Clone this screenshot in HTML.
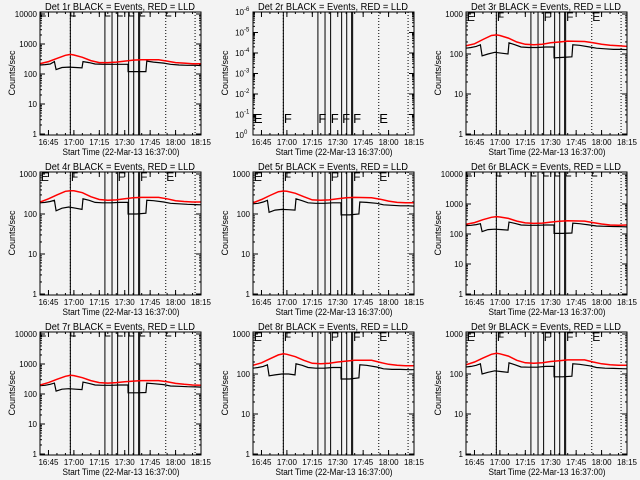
<!DOCTYPE html>
<html><head><meta charset="utf-8"><style>
html,body{margin:0;padding:0;background:#f3f3f3;}
svg{display:block;}
text{font-family:"Liberation Sans",sans-serif;fill:#000;}
</style></head><body>
<svg id="chart" width="640" height="480" viewBox="0 0 640 480" xmlns="http://www.w3.org/2000/svg">
<rect width="640" height="480" fill="#f3f3f3"/>
</svg>
<script>
// ---- data ----
const panelTitles = ["Det 1r BLACK = Events, RED = LLD","Det 2r BLACK = Events, RED = LLD","Det 3r BLACK = Events, RED = LLD","Det 4r BLACK = Events, RED = LLD","Det 5r BLACK = Events, RED = LLD","Det 6r BLACK = Events, RED = LLD","Det 7r BLACK = Events, RED = LLD","Det 8r BLACK = Events, RED = LLD","Det 9r BLACK = Events, RED = LLD"];
const panelDecades = [4,0,3,3,3,4,4,3,3];
const xTickLabels = ["16:45","17:00","17:15","17:30","17:45","18:00","18:15"];
const xTickMinutes = [8,23,38,53,68,83,98];
const blackTimes = [3,6,9,11.5,12.5,16,20,24,27.8,28.4,32,35.5,40,45,50,54.9,55,60,65.5,66,70,76,80,85,90,95,98];
const black1 = [200,205,215,260,140,165,170,165,160,260,240,215,210,210,210,210,120,120,120,270,250,230,210,200,195,195,190];
const black3 = [140,145,155,170,90,100,110,105,100,190,170,150,145,145,150,150,80,82,85,170,165,150,140,135,130,130,128];
const black4 = [190,195,205,220,120,140,150,140,130,240,220,195,190,190,195,195,100,100,105,220,215,200,185,180,175,172,170];
const black5 = [180,185,200,220,110,125,130,128,125,240,215,190,185,185,190,190,95,95,100,200,195,185,170,165,160,160,158];
const black6 = [190,195,205,220,120,140,145,140,135,250,225,200,195,195,200,200,105,105,108,230,220,200,185,180,178,175,172];
const black7 = [190,195,210,230,125,145,150,145,140,250,225,200,195,195,200,200,110,110,112,230,220,205,185,180,175,172,170];
const black8 = [140,145,155,170,90,95,100,100,95,180,165,145,140,140,145,145,75,75,80,170,165,150,135,130,130,128,128];
const black9 = [150,155,165,180,100,110,120,115,110,190,170,150,148,148,155,155,85,85,88,180,175,160,145,140,138,136,135];
const redTimes = [3,8,13,18,21,23,28,33,38,43,48,53,58,63,73,78,83,88,93,98];
const red1 = [220,260,330,420,450,430,360,280,240,240,250,270,290,300,300,270,240,230,220,220];
const red3 = [160,180,230,290,300,290,250,200,175,170,175,190,200,210,205,190,175,165,160,155];
const red4 = [200,240,300,370,380,380,340,270,230,220,225,240,255,260,260,240,215,205,200,200];
const red5 = [190,230,290,360,375,370,330,270,225,220,225,240,255,260,255,235,210,195,190,190];
const red6 = [210,240,300,360,380,370,330,270,235,225,230,250,265,275,270,240,215,200,195,200];
const red7 = [200,240,310,390,420,410,350,280,240,230,240,255,270,280,280,255,225,210,200,195];
const red8 = [165,190,240,300,320,310,270,220,185,180,185,200,210,220,220,195,175,165,160,160];
const red9 = [170,200,250,310,330,320,280,220,190,185,190,205,215,225,225,200,180,170,165,165];
const blackSeries = [black1,null,black3,black4,black5,black6,black7,black8,black9];
const redSeries = [red1,null,red3,red4,red5,red6,red7,red8,red9];
const solidLineTimes = [20.9,41.3,45.5,48.8,55.3,58.3,61.2,61.8];
const dottedLineTimes = [20.9,77.2,94.5];
const markerTimes = [3.5,21.2,41.6,48.9,55.6,62.1,77.5];
const markerLetters = ["E","F","F","F","F","F","E"];
const markerLettersTop = ["E","F","","F","","F","E"];
const panel2Labels = ["0","-1","-2","-3","-4","-5","-6"];

// ---- layout ----
const NS="http://www.w3.org/2000/svg";
const svg=document.getElementById('chart');
const L=40,R=201,T=12,B=135;
function mk(tag,attrs,parent){const e=document.createElementNS(NS,tag);for(const k in attrs)e.setAttribute(k,attrs[k]);(parent||svg).appendChild(e);return e;}
function xS(t){return L+(t-3)*(R-L)/95;}
function makeY(dec){const per=(B-1-T-2)/Math.max(dec,1);return v=>B-1-Math.log10(v)*per;}

for(let p=0;p<9;p++){
  const ox=(p%3)*213, oy=Math.floor(p/3)*160;
  const g=mk('g',{transform:`translate(${ox},${oy})`});
  
  
  const dec=panelDecades[p];
  const yS=makeY(dec);
  const cp=mk('clipPath',{id:'cp'+p},g);
  mk('rect',{x:L,y:T,width:R-L,height:B-T},cp);

  const title=mk('text',{x:120,y:10,'font-size':10,'text-anchor':'middle',textLength:150,lengthAdjust:'spacingAndGlyphs'},g);
  title.textContent=panelTitles[p];
  
  

  const yl=mk('text',{x:0,y:0,'font-size':9,'text-anchor':'middle',transform:'translate(15,73) rotate(-90)'},g);
  yl.textContent='Counts/sec';
  
  

  const xl=mk('text',{x:121,y:155,'font-size':9,'text-anchor':'middle',textLength:117,lengthAdjust:'spacingAndGlyphs'},g);
  xl.textContent='Start Time (22-Mar-13 16:37:00)';
  
  

  // x ticks
  xTickMinutes.forEach((m,i)=>{
    const x=xS(m);
    mk('line',{x1:x,x2:x,y1:B,y2:B-5,stroke:'#000'},g);
    mk('line',{x1:x,x2:x,y1:T,y2:T+5,stroke:'#000'},g);
    const t=mk('text',{x:x,y:145,'font-size':8,'text-anchor':'middle'},g);
    t.textContent=xTickLabels[i];
    
    
  });
  for(let m=3;m<=98;m+=5){const x=xS(m);mk('line',{x1:x,x2:x,y1:B,y2:B-2,stroke:'#000'},g);mk('line',{x1:x,x2:x,y1:T,y2:T+2,stroke:'#000'},g);}

  // y ticks
  if(dec>0){
    for(let d=0;d<=dec;d++){
      const y=yS(Math.pow(10,d));
      mk('line',{x1:L,x2:L+5,y1:y,y2:y,stroke:'#000'},g);
      mk('line',{x1:R,x2:R-5,y1:y,y2:y,stroke:'#000'},g);
      const t=mk('text',{x:L-3,y:y+3,'font-size':8,'text-anchor':'end'},g);
      t.textContent=String(Math.pow(10,d));
      
      
      if(d<dec||true){for(let k=2;k<10;k++){const yy=yS(k*Math.pow(10,d));if(yy<T)break;mk('line',{x1:L,x2:L+2,y1:yy,y2:yy,stroke:'#000'},g);mk('line',{x1:R,x2:R-2,y1:yy,y2:yy,stroke:'#000'},g);}}
    }
  } else {
    panel2Labels.forEach((lab,i)=>{
      const y=B-i*(B-T)/6;
      mk('line',{x1:L,x2:L+5,y1:y,y2:y,stroke:'#000'},g);
      mk('line',{x1:R,x2:R-5,y1:y,y2:y,stroke:'#000'},g);
      for(let k=2;k<10;k++){const yy=y-Math.log10(k)*(B-T)/6;if(i<6){mk('line',{x1:L,x2:L+2,y1:yy,y2:yy,stroke:'#000'},g);mk('line',{x1:R,x2:R-2,y1:yy,y2:yy,stroke:'#000'},g);}}
      const t=mk('text',{x:L-9,y:y+3,'font-size':8,'text-anchor':'end'},g);
      t.textContent='10';
      
      
      const s=mk('text',{x:L-9,y:y-1,'font-size':6,'text-anchor':'start'},g);
      s.textContent=lab;
    });
  }

  // vertical lines
  solidLineTimes.forEach(t=>{const x=xS(t);const l=mk('line',{x1:x,x2:x,y1:T,y2:B,stroke:'#000','stroke-width':1},g);
    
    });
  dottedLineTimes.forEach(t=>{const x=xS(t);const l=mk('line',{x1:x,x2:x,y1:T,y2:B,stroke:'#000','stroke-width':1,'stroke-dasharray':'1,2'},g);
    
    });

  // markers E/F
  markerTimes.forEach((t,i)=>{
    const x=xS(t);
    if(dec===0){
      const m=mk('text',{x:x,y:B-12,'font-size':13},g);m.textContent=markerLetters[i];
      
      
    } else if(dec===3){
      if(markerLettersTop[i]){const m=mk('text',{x:x,y:T+9,'font-size':12},g);m.textContent=markerLettersTop[i];
      
      }
    } else {
      mk('polyline',{points:`${x},${T} ${x},${T+4} ${x+5},${T+4}`,fill:'none',stroke:'#000'},g);
    }
  });

  // series
  if(blackSeries[p]){
    const bp=blackTimes.map((t,i)=>`${xS(t).toFixed(1)},${yS(blackSeries[p][i]).toFixed(1)}`).join(' ');
    const bl=mk('polyline',{points:bp,fill:'none',stroke:'#000','stroke-width':1.2,'clip-path':`url(#cp${p})`},g);
    
    
    const rp=redTimes.map((t,i)=>`${xS(t).toFixed(1)},${yS(redSeries[p][i]).toFixed(1)}`).join(' ');
    const rl=mk('polyline',{points:rp,fill:'none',stroke:'#ff0000','stroke-width':1.5,'clip-path':`url(#cp${p})`},g);
    
    
  }

  const fr=mk('rect',{x:L,y:T,width:R-L,height:B-T,fill:'none',stroke:'#000','stroke-width':1},g);
  
  
}
</script>
</body></html>
